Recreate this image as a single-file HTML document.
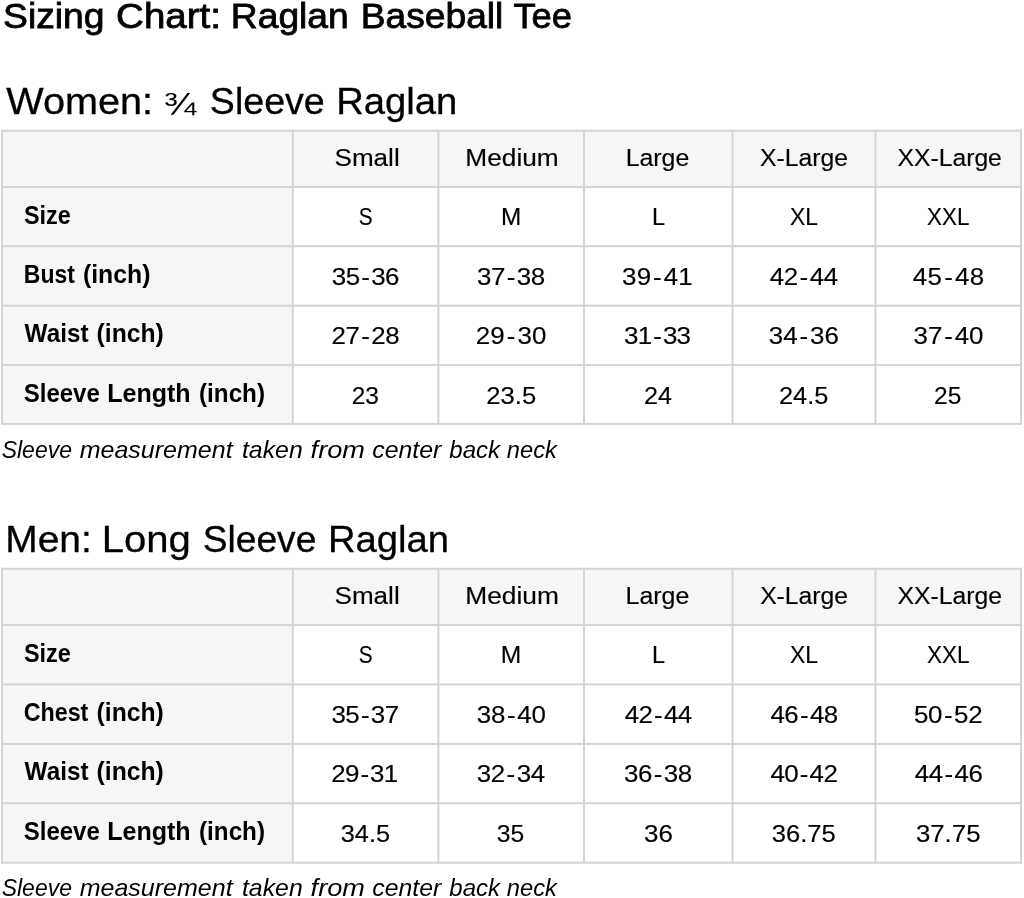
<!DOCTYPE html>
<html lang="en"><head><meta charset="utf-8"><title>Sizing Chart: Raglan Baseball Tee</title>
<style>
html,body{margin:0;padding:0;background:#fff;}
body{width:1024px;height:898px;overflow:hidden;position:relative;}
svg{position:absolute;left:0;top:0;display:block;}
text{font-family:"Liberation Sans", "DejaVu Sans", sans-serif;fill:#000;white-space:pre;}
.t{font-size:35.4px;stroke:#000;stroke-width:0.8px;}
.h{font-size:37.5px;stroke:#000;stroke-width:0.3px;}
.c{font-size:24.7px;stroke:#000;stroke-width:0.15px;}
.b{font-size:25.3px;font-weight:bold;}
.n{font-size:23.8px;font-style:italic;}
</style></head><body>
<svg width="1024" height="898" viewBox="0 0 1024 898">
<rect x="2.00" y="130.70" width="1019.00" height="56.30" fill="#f6f6f6"/>
<rect x="2.00" y="130.70" width="290.80" height="293.20" fill="#f6f6f6"/>
<rect x="1.00" y="129.70" width="1021.00" height="2.00" fill="#d3d5d5"/>
<rect x="1.00" y="186.00" width="1021.00" height="2.00" fill="#d3d5d5"/>
<rect x="1.00" y="245.20" width="1021.00" height="2.00" fill="#d3d5d5"/>
<rect x="1.00" y="304.70" width="1021.00" height="2.00" fill="#d3d5d5"/>
<rect x="1.00" y="364.10" width="1021.00" height="2.00" fill="#d3d5d5"/>
<rect x="1.00" y="422.90" width="1021.00" height="2.00" fill="#d3d5d5"/>
<rect x="1.00" y="129.70" width="2.00" height="295.20" fill="#d3d5d5"/>
<rect x="291.80" y="129.70" width="2.00" height="295.20" fill="#d3d5d5"/>
<rect x="437.40" y="129.70" width="2.00" height="295.20" fill="#d3d5d5"/>
<rect x="583.00" y="129.70" width="2.00" height="295.20" fill="#d3d5d5"/>
<rect x="731.50" y="129.70" width="2.00" height="295.20" fill="#d3d5d5"/>
<rect x="874.50" y="129.70" width="2.00" height="295.20" fill="#d3d5d5"/>
<rect x="1020.00" y="129.70" width="2.00" height="295.20" fill="#d3d5d5"/>
<rect x="2.00" y="568.80" width="1019.00" height="56.30" fill="#f6f6f6"/>
<rect x="2.00" y="568.80" width="290.80" height="293.90" fill="#f6f6f6"/>
<rect x="1.00" y="567.80" width="1021.00" height="2.00" fill="#d3d5d5"/>
<rect x="1.00" y="624.10" width="1021.00" height="2.00" fill="#d3d5d5"/>
<rect x="1.00" y="683.40" width="1021.00" height="2.00" fill="#d3d5d5"/>
<rect x="1.00" y="742.95" width="1021.00" height="2.00" fill="#d3d5d5"/>
<rect x="1.00" y="802.20" width="1021.00" height="2.00" fill="#d3d5d5"/>
<rect x="1.00" y="861.70" width="1021.00" height="2.00" fill="#d3d5d5"/>
<rect x="1.00" y="567.80" width="2.00" height="295.90" fill="#d3d5d5"/>
<rect x="291.80" y="567.80" width="2.00" height="295.90" fill="#d3d5d5"/>
<rect x="437.40" y="567.80" width="2.00" height="295.90" fill="#d3d5d5"/>
<rect x="583.00" y="567.80" width="2.00" height="295.90" fill="#d3d5d5"/>
<rect x="731.50" y="567.80" width="2.00" height="295.90" fill="#d3d5d5"/>
<rect x="874.50" y="567.80" width="2.00" height="295.90" fill="#d3d5d5"/>
<rect x="1020.00" y="567.80" width="2.00" height="295.90" fill="#d3d5d5"/>
<g><text class="t" transform="matrix(1.0532 0 0 1 3.05 28.20)">Sizing</text> <text class="t" transform="matrix(1.0871 0 0 1 116.11 28.20)">Chart:</text> <text class="t" transform="matrix(1.0518 0 0 1 230.80 28.20)">Raglan</text> <text class="t" transform="matrix(1.0500 0 0 1 360.80 28.20)">Baseball</text> <text class="t" transform="matrix(1.0267 0 0 1 513.40 28.20)">Tee</text></g>
<g><text class="h" transform="matrix(1.0574 0 0 1 6.20 113.70)">Women:</text> <text class="h" style="stroke-width:0" transform="matrix(1.0387 0 0 0.82 163.66 114.50)">&#190;</text> <text class="h" transform="matrix(1.0016 0 0 1 209.86 113.70)">Sleeve</text> <text class="h" transform="matrix(1.0195 0 0 1 336.22 113.70)">Raglan</text></g>
<g><text class="h" transform="matrix(1.0372 0 0 1 5.27 552.00)">Men:</text> <text class="h" transform="matrix(1.0687 0 0 1 101.77 552.00)">Long</text> <text class="h" transform="matrix(0.9908 0 0 1 202.78 552.00)">Sleeve</text> <text class="h" transform="matrix(1.0195 0 0 1 327.92 552.00)">Raglan</text></g>
<g><text class="n" transform="matrix(0.9652 0 0 1 1.71 457.80)">Sleeve</text> <text class="n" transform="matrix(1.0517 0 0 1 79.70 457.80)">measurement</text> <text class="n" transform="matrix(1.0442 0 0 1 241.96 457.80)">taken</text> <text class="n" transform="matrix(1.1421 0 0 1 310.58 457.80)">from</text> <text class="n" transform="matrix(1.0442 0 0 1 372.24 457.80)">center</text> <text class="n" transform="matrix(1.0097 0 0 1 449.30 457.80)">back</text> <text class="n" transform="matrix(0.9960 0 0 1 506.80 457.80)">neck</text></g>
<g><text class="n" transform="matrix(0.9652 0 0 1 1.71 895.80)">Sleeve</text> <text class="n" transform="matrix(1.0517 0 0 1 79.70 895.80)">measurement</text> <text class="n" transform="matrix(1.0442 0 0 1 241.96 895.80)">taken</text> <text class="n" transform="matrix(1.1421 0 0 1 310.58 895.80)">from</text> <text class="n" transform="matrix(1.0442 0 0 1 372.24 895.80)">center</text> <text class="n" transform="matrix(1.0097 0 0 1 449.30 895.80)">back</text> <text class="n" transform="matrix(0.9960 0 0 1 506.80 895.80)">neck</text></g>
<text class="c" transform="matrix(1.0555 0 0 1 334.54 166.20)">Small</text>
<text class="c" transform="matrix(1.0633 0 0 1 465.32 166.20)">Medium</text>
<text class="c" transform="matrix(1.0086 0 0 1 625.63 166.20)">Large</text>
<text class="c" transform="matrix(1.0006 0 0 1 760.05 166.20)">X-Large</text>
<text class="c" transform="matrix(1.0011 0 0 1 897.45 166.20)">XX-Large</text>
<text class="b" transform="matrix(0.9250 0 0 1 23.95 223.60)">Size</text>
<text class="c" transform="matrix(0.8423 0 0 1 358.66 224.80)">S</text>
<text class="c" transform="matrix(0.9855 0 0 1 500.98 224.80)">M</text>
<text class="c" transform="matrix(0.9505 0 0 1 652.04 224.80)">L</text>
<text class="c" transform="matrix(0.9266 0 0 1 789.90 224.80)">XL</text>
<text class="c" transform="matrix(0.9061 0 0 1 927.12 224.80)">XXL</text>
<g><text class="b" transform="matrix(0.9096 0 0 1 23.86 282.80)">Bust</text> <text class="b" transform="matrix(0.9806 0 0 1 82.92 282.80)">(inch)</text></g>
<text class="c" dx="0.00 -0.53 1.17 1.17 -0.53" transform="matrix(1.0500 0 0 1 331.82 284.60)">35-36</text>
<text class="c" dx="0.00 -0.39 1.31 1.31 -0.39" transform="matrix(1.0500 0 0 1 477.02 284.60)">37-38</text>
<text class="c" dx="0.00 0.21 1.91 1.91 0.21" transform="matrix(1.0500 0 0 1 622.02 284.60)">39-41</text>
<text class="c" dx="0.00 -0.34 1.36 1.36 -0.34" transform="matrix(1.0500 0 0 1 769.70 284.60)">42-44</text>
<text class="c" dx="0.00 0.40 2.10 2.10 0.40" transform="matrix(1.0500 0 0 1 912.70 284.60)">45-48</text>
<g><text class="b" transform="matrix(0.9605 0 0 1 24.60 342.00)">Waist</text> <text class="b" transform="matrix(0.9761 0 0 1 96.62 342.00)">(inch)</text></g>
<text class="c" dx="0.00 -0.44 1.26 1.26 -0.44" transform="matrix(1.0500 0 0 1 331.55 344.10)">27-28</text>
<text class="c" dx="0.00 0.22 1.92 1.92 0.22" transform="matrix(1.0500 0 0 1 475.65 344.10)">29-30</text>
<text class="c" dx="0.00 -0.68 1.02 1.02 -0.68" transform="matrix(1.0500 0 0 1 624.02 344.10)">31-33</text>
<text class="c" dx="0.00 0.09 1.79 1.79 0.09" transform="matrix(1.0500 0 0 1 768.72 344.10)">34-36</text>
<text class="c" dx="0.00 0.06 1.76 1.76 0.06" transform="matrix(1.0500 0 0 1 913.42 344.10)">37-40</text>
<g><text class="b" transform="matrix(0.9489 0 0 1 23.73 402.20)">Sleeve</text> <text class="b" transform="matrix(0.9900 0 0 1 107.23 402.20)">Length</text> <text class="b" transform="matrix(0.9582 0 0 1 199.04 402.20)">(inch)</text></g>
<text class="c" transform="matrix(0.9914 0 0 1 351.71 403.50)">23</text>
<text class="c" transform="matrix(1.0370 0 0 1 486.36 403.50)">23.5</text>
<text class="c" transform="matrix(1.0192 0 0 1 644.08 403.50)">24</text>
<text class="c" transform="matrix(1.0283 0 0 1 778.97 403.50)">24.5</text>
<text class="c" transform="matrix(0.9923 0 0 1 934.11 403.50)">25</text>
<text class="c" transform="matrix(1.0555 0 0 1 334.54 604.20)">Small</text>
<text class="c" transform="matrix(1.0657 0 0 1 465.32 604.20)">Medium</text>
<text class="c" transform="matrix(1.0119 0 0 1 625.52 604.20)">Large</text>
<text class="c" transform="matrix(1.0006 0 0 1 760.15 604.20)">X-Large</text>
<text class="c" transform="matrix(1.0021 0 0 1 897.45 604.20)">XX-Large</text>
<text class="b" transform="matrix(0.9270 0 0 1 23.95 661.60)">Size</text>
<text class="c" transform="matrix(0.8423 0 0 1 358.66 662.80)">S</text>
<text class="c" transform="matrix(0.9972 0 0 1 500.85 662.80)">M</text>
<text class="c" transform="matrix(0.9505 0 0 1 652.04 662.80)">L</text>
<text class="c" transform="matrix(0.9266 0 0 1 789.90 662.80)">XL</text>
<text class="c" transform="matrix(0.9083 0 0 1 927.12 662.80)">XXL</text>
<g><text class="b" transform="matrix(0.9203 0 0 1 23.68 720.80)">Chest</text> <text class="b" transform="matrix(0.9761 0 0 1 96.62 720.80)">(inch)</text></g>
<text class="c" dx="0.00 -0.51 1.19 1.19 -0.51" transform="matrix(1.0500 0 0 1 331.42 722.60)">35-37</text>
<text class="c" dx="0.00 -0.18 1.52 1.52 -0.18" transform="matrix(1.0500 0 0 1 476.72 722.60)">38-40</text>
<text class="c" dx="0.00 -0.58 1.12 1.12 -0.58" transform="matrix(1.0500 0 0 1 624.70 722.60)">42-44</text>
<text class="c" dx="0.00 -0.48 1.22 1.22 -0.48" transform="matrix(1.0500 0 0 1 770.40 722.60)">46-48</text>
<text class="c" dx="0.00 -0.28 1.42 1.42 -0.28" transform="matrix(1.0500 0 0 1 913.96 722.60)">50-52</text>
<g><text class="b" transform="matrix(0.9605 0 0 1 24.60 780.00)">Waist</text> <text class="b" transform="matrix(0.9761 0 0 1 96.62 780.00)">(inch)</text></g>
<text class="c" dx="0.00 -0.75 0.95 0.95 -0.75" transform="matrix(1.0500 0 0 1 331.35 782.10)">29-31</text>
<text class="c" dx="0.00 -0.34 1.36 1.36 -0.34" transform="matrix(1.0500 0 0 1 476.72 782.10)">32-34</text>
<text class="c" dx="0.00 -0.39 1.31 1.31 -0.39" transform="matrix(1.0500 0 0 1 624.02 782.10)">36-38</text>
<text class="c" dx="0.00 -0.58 1.12 1.12 -0.58" transform="matrix(1.0500 0 0 1 770.40 782.10)">40-42</text>
<text class="c" dx="0.00 -0.40 1.30 1.30 -0.40" transform="matrix(1.0500 0 0 1 914.70 782.10)">44-46</text>
<g><text class="b" transform="matrix(0.9489 0 0 1 23.73 840.20)">Sleeve</text> <text class="b" transform="matrix(0.9900 0 0 1 107.23 840.20)">Length</text> <text class="b" transform="matrix(0.9582 0 0 1 199.04 840.20)">(inch)</text></g>
<text class="c" transform="matrix(1.0269 0 0 1 340.74 841.50)">34.5</text>
<text class="c" transform="matrix(1.0014 0 0 1 496.86 841.50)">35</text>
<text class="c" transform="matrix(1.0514 0 0 1 644.11 841.50)">36</text>
<text class="c" transform="matrix(1.0372 0 0 1 771.73 841.50)">36.75</text>
<text class="c" transform="matrix(1.0456 0 0 1 915.92 841.50)">37.75</text>
</svg>
</body></html>
